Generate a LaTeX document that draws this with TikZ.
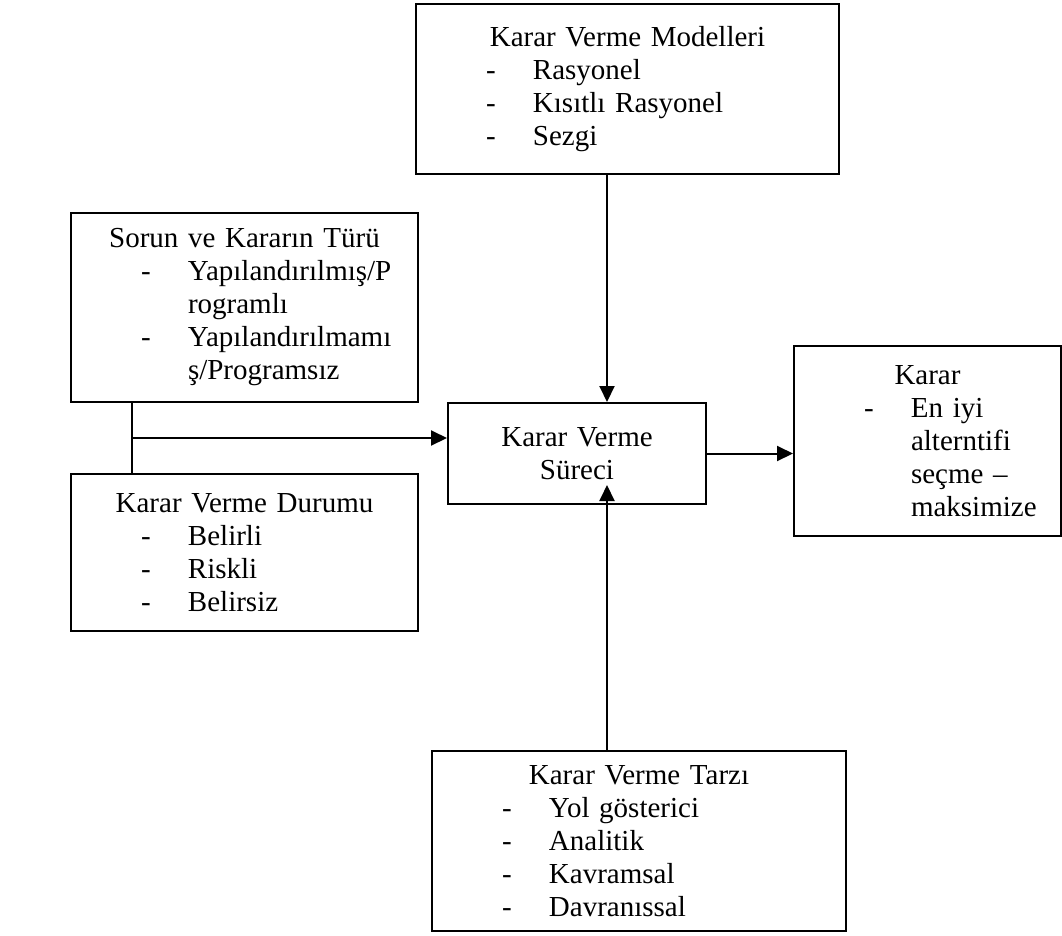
\documentclass[tikz,border=0pt]{standalone}
\usepackage{fontspec}
\setmainfont{Liberation Serif}
\usetikzlibrary{arrows.meta,calc}

\newcommand{\ttl}[1]{\makebox[\linewidth]{#1}}
\newcommand{\itm}[1]{\hspace*{70pt}\makebox[47pt][l]{-}#1}
\newcommand{\cnt}[1]{\hspace*{117pt}#1}

\begin{document}
\begin{tikzpicture}[x=1pt, y=-1pt,
    kutu/.style={draw, line width=2pt, inner sep=0pt, align=left, anchor=north west,
      font=\fontsize{29}{33}\selectfont},
    ok/.style={line width=2pt, -{Triangle[length=16pt,width=15pt]}}]
  \useasboundingbox (0,0) rectangle (1062,935);

  % Box 1
  \node[kutu, text width=423pt, minimum height=170pt] (modeller) at (415,3)
    {\ttl{Karar Verme Modelleri}\\ \itm{Rasyonel}\\ \itm{Kısıtlı Rasyonel}\\ \itm{Sezgi}};

  % Box 2
  \node[kutu, text width=347pt, minimum height=189pt] (sorun) at (70,212)
    {\ttl{Sorun ve Kararın Türü}\\ \itm{Yapılandırılmış/P}\\ \cnt{rogramlı}\\
     \itm{Yapılandırılmamı}\\ \cnt{ş/Programsız}};

  % Box 3
  \node[kutu, text width=347pt, minimum height=157pt] (durum) at (70,473)
    {\ttl{Karar Verme Durumu}\\ \itm{Belirli}\\ \itm{Riskli}\\ \itm{Belirsiz}};

  % Box 4
  \node[kutu, align=center, text width=258pt, minimum height=101pt] (surec) at (447,402)
    {Karar Verme\\ Süreci};

  % Box 5
  \node[kutu, text width=267pt, minimum height=190pt] (karar) at (793,345)
    {\ttl{Karar}\\ \itm{En iyi}\\ \cnt{alterntifi}\\ \cnt{seçme –}\\ \cnt{maksimize}};

  % Box 6
  \node[kutu, text width=414pt, minimum height=180pt] (tarz) at (431,750)
    {\ttl{Karar Verme Tarzı}\\ \itm{Yol gösterici}\\ \itm{Analitik}\\ \itm{Kavramsal}\\ \itm{Davranıssal}};

  \coordinate (ax) at (607,0);
  \coordinate (jn) at (132,438);

  % arrows
  \draw[ok] (modeller.south -| ax) -- (surec.north -| ax);
  \draw[ok] (tarz.north -| ax) -- ($(surec.south -| ax)+(0,-20)$);
  \draw[line width=2pt] (sorun.south -| jn) -- (durum.north -| jn);
  \draw[ok] (jn) -- (jn -| surec.west);
  \draw[ok] (surec.east) -- (surec.east -| karar.west);
\end{tikzpicture}
\end{document}
